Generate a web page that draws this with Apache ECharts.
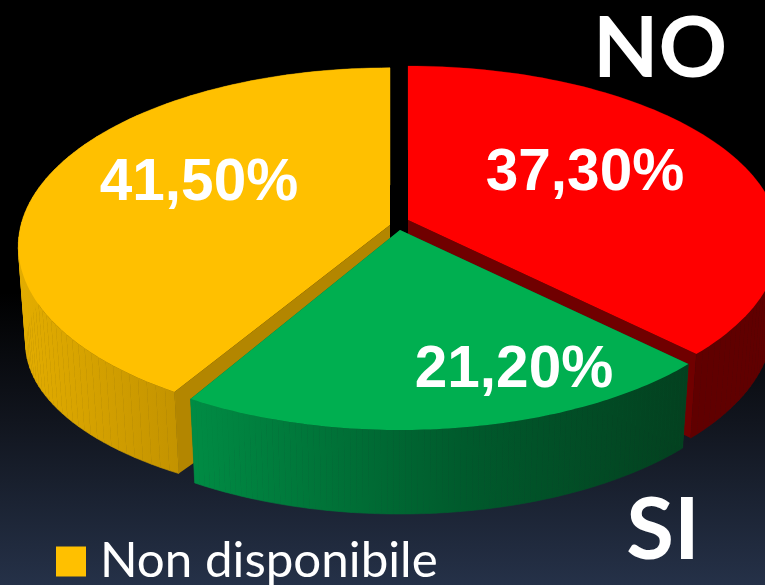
<!DOCTYPE html>
<html><head><meta charset="utf-8">
<style>html,body{margin:0;padding:0;background:#000}#c{width:765px;height:585px}</style>
<script src="https://cdn.jsdelivr.net/npm/echarts@6/dist/echarts.min.js"></script>
</head><body><div id="c"></div>
<script>
const categories = ['NO', 'SI', 'Non disponibile'];
const values = [37.3, 21.2, 41.5];
const topColors = ['#FF0000', '#00AF50', '#FFC000'];
const innerColors = ['#700000', '#00622D', '#B38600'];
const wallStops = [
  [[0, '#600000'], [1, '#600000']],
  [[0, '#008C44'], [0.55, '#005A2C'], [1, '#03401F']],
  [[0, '#E2AC00'], [1, '#C29200']]
];
const wallRange = [[600, 765], [190, 690], [25, 185]];
const apex = [[408, 220], [400, 230], [390, 225]];
const drawOrder = [0, 2, 1];
const depth = [84, 84, 100];
const lowYScale = [1, 1, 0.89];
const backScale = [0.98, 1, 1];
const startNudge = [0, 0, 0.018];

const RX = 369, RY = 176, K = 0.12, BOTTOM_SCALE = 0.98, STEPS = 90;
const total = values.reduce((a, b) => a + b, 0);
const starts = values.map((_, i) => values.slice(0, i).reduce((a, b) => a + b, 0) / total * Math.PI * 2);

function project(i, ang, low) {
  const u = Math.sin(ang), v = -Math.cos(ang), w = 1 - K * v;
  const s = low ? BOTTOM_SCALE : 1;
  const dy = RY * v / w * (v < 0 ? backScale[i] : 1) * (low ? lowYScale[i] : 1);
  return [apex[i][0] + s * RX * u / w, apex[i][1] + dy + (low ? depth[i] : 0)];
}
function arc(i, a0, a1, low) {
  const pts = [];
  for (let n = 0; n <= STEPS; n++) pts.push(project(i, a0 + (a1 - a0) * n / STEPS, low));
  return pts;
}
function renderSlice(i) {
  return function (params, api) {
    const val = api.value(0);
    const a0 = starts[i] + startNudge[i], a1 = starts[i] + val / total * Math.PI * 2;
    const c = apex[i], cLow = [c[0], c[1] + depth[i]];
    const top = arc(i, a0, a1, false), low = arc(i, a0, a1, true);
    const children = [];
    const inner = (ang) => {
      const t = project(i, ang, false), b = project(i, ang, true);
      return { type: 'polygon', shape: { points: [c, t, b, cLow] }, style: { fill: innerColors[i] } };
    };
    children.push(inner(a0), inner(a1));
    const wallFill = { type: 'linear', global: true, x: wallRange[i][0], y: 0, x2: wallRange[i][1], y2: 0,
      colorStops: wallStops[i].map(s => ({ offset: s[0], color: s[1] })) };
    for (let n = 0; n < STEPS; n++) {
      children.push({
        type: 'polygon',
        shape: { points: [top[n], top[n + 1], low[n + 1], low[n]] },
        style: { fill: wallFill, stroke: wallFill, lineWidth: 0.6 }
      });
    }
    children.push({ type: 'polygon', shape: { points: [c].concat(top) }, style: { fill: topColors[i] } });
    return { type: 'group', children };
  };
}
const labelPos = [[585, 174], [514, 371], [199, 184]];
function fmt(v) { return v.toFixed(2).replace('.', ',') + '%'; }

const chart = echarts.init(document.getElementById('c'), null, { renderer: 'canvas' });
chart.setOption({
  animation: false,
  backgroundColor: { type: 'linear', x: 0, y: 0, x2: 0, y2: 1, colorStops: [
    { offset: 0, color: '#000000' }, { offset: 0.5, color: '#000000' },
    { offset: 0.72, color: '#11151e' }, { offset: 1, color: '#253148' }] },
  legend: {
    data: [{ name: categories[2], icon: 'rect' }],
    left: 56, top: 537, padding: 0, itemWidth: 30, itemHeight: 30, itemGap: 14,
    selectedMode: false,
    textStyle: { color: '#fff', fontFamily: 'Lato', fontSize: 49.3, padding: [0, 0, 0, 9] }
  },
  graphic: [
    { type: 'text', z: 20, style: { x: 660, y: 50, text: categories[0], fill: '#fff', font: 'bold 85px Lato', textAlign: 'center', textVerticalAlign: 'middle' } },
    { type: 'text', z: 20, style: { x: 663, y: 531, text: categories[1], fill: '#fff', font: 'bold 87px Lato', textAlign: 'center', textVerticalAlign: 'middle' } }
  ].concat(values.map((v, i) => ({
    type: 'text', z: 20,
    style: { x: labelPos[i][0], y: labelPos[i][1], text: fmt(v), fill: '#fff', font: 'bold 58.5px "Liberation Sans"', textAlign: 'center', textVerticalAlign: 'middle' }
  }))),
  series: drawOrder.map((i, n) => ({
    type: 'custom', name: categories[i], coordinateSystem: 'none', silent: true, z: 2 + n,
    itemStyle: { color: topColors[i] }, clip: false,
    data: [[values[i]]], renderItem: renderSlice(i)
  }))
});
</script></body></html>
